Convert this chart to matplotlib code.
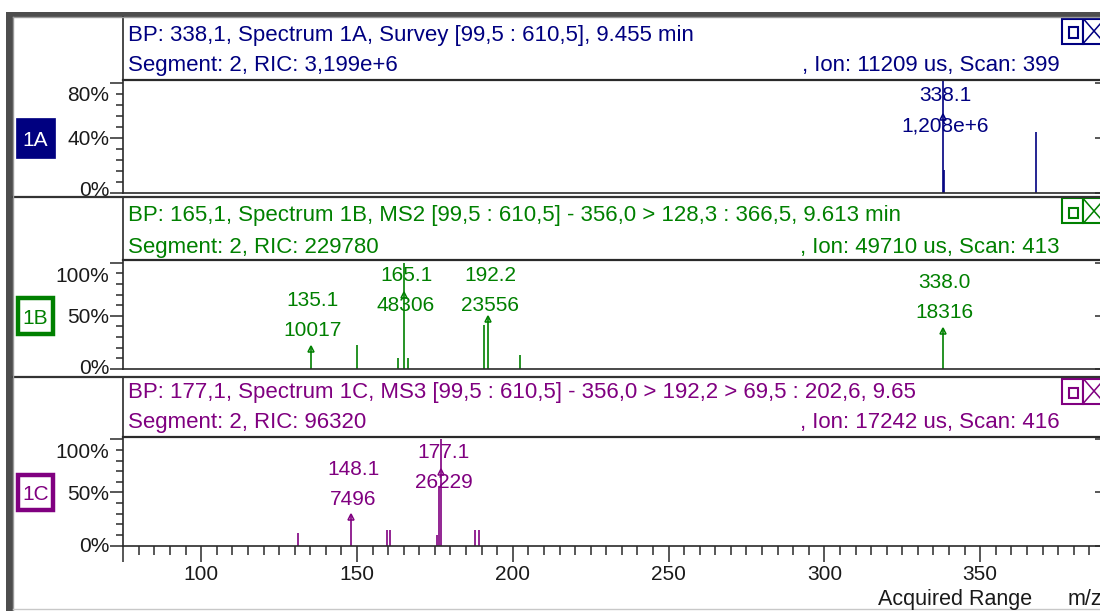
import matplotlib
matplotlib.use("Agg")
import matplotlib.pyplot as plt
from matplotlib.patches import Rectangle
from matplotlib.lines import Line2D
from matplotlib.transforms import ScaledTranslation, blended_transform_factory

plt.rcParams['font.family'] = ['Liberation Sans', 'DejaVu Sans']

W, H, DPI = 1100, 611, 100

# ---- spectra (m/z, absolute intensity) ----
spec_ids = ["1A", "1B", "1C"]
spec_colors = ["#000080", "#008000", "#800080"]

mz_1a = [338.1, 338.4, 368.0]
int_1a = [1208000, 200000, 534000]
mz_1b = [135.1, 150.1, 163.1, 165.1, 166.3, 190.7, 192.2, 202.3, 338.0]
int_1b = [10017, 10970, 4830, 48306, 4830, 19800, 23556, 6530, 18316]
mz_1c = [131.2, 148.1, 159.5, 160.5, 175.6, 176.2, 177.1, 188.0, 189.0]
int_1c = [3070, 7496, 3930, 3930, 2620, 14700, 26229, 3930, 3930]

labeled_1a = [338.1]
labeled_1b = [135.1, 165.1, 192.2, 338.0]
labeled_1c = [148.1, 177.1]

header_line1 = [
    "BP: 338,1, Spectrum 1A, Survey [99,5 : 610,5], 9.455 min",
    "BP: 165,1, Spectrum 1B, MS2 [99,5 : 610,5] - 356,0 > 128,3 : 366,5, 9.613 min",
    "BP: 177,1, Spectrum 1C, MS3 [99,5 : 610,5] - 356,0 > 192,2 > 69,5 : 202,6, 9.65",
]
header_seg = ["Segment: 2, RIC: 3,199e+6", "Segment: 2, RIC: 229780", "Segment: 2, RIC: 96320"]
header_ion = [", Ion: 11209 us, Scan: 399", ", Ion: 49710 us, Scan: 413", ", Ion: 17242 us, Scan: 416"]

y_max = [82.3, 103.0, 102.6]
y_major = [[0, 40, 80], [0, 50, 100], [0, 50, 100]]
y_minor_step = [8, 10, 10]
x_major = [75, 100, 150, 200, 250, 300, 350]
x_labels = ["", "100", "150", "200", "250", "300", "350"]
x_range = (75, 388.45)

# ---- layout in pixels ----
AX_LEFT, AX_RIGHT = 123.3, 1100.0
panel_top = [79.5, 259.5, 436.5]
panel_bottom = [193.0, 369.0, 545.5]
header_top = [17.0, 197.0, 377.0]
line1_y = [33.3, 213.3, 390.0]
line2_y = [63.5, 244.5, 420.0]
badge_y = [(118, 158), (296, 336), (473, 512)]
ylab_shift = [[4, 0, -11], [3, 0, -12], [1, 0, -11]]

FS = 15
FS_HEAD = 16
DARK = "#2a2a2a"

fig = plt.figure(figsize=(W / DPI, H / DPI), dpi=DPI)
fig.patch.set_facecolor("white")


def fx(x):
    return x / W


def fy(y):
    return 1 - y / H


def px_rect(x0, y0, x1, y1, **kw):
    r = Rectangle((fx(x0), fy(y1)), (x1 - x0) / W, (y1 - y0) / H,
                  transform=fig.transFigure, **kw)
    fig.add_artist(r)
    return r


def px_line(xs, ys, **kw):
    ln = Line2D([fx(x) for x in xs], [fy(y) for y in ys], transform=fig.transFigure, **kw)
    fig.add_artist(ln)
    return ln


def fmt_intensity(v):
    if v >= 1e6:
        m, e = f"{v:.3e}".split("e")
        return m.replace(".", ",") + "e+" + str(int(e))
    return str(int(v))


def px(n):
    return n / DPI


spectra = [(mz_1a, int_1a, labeled_1a), (mz_1b, int_1b, labeled_1b), (mz_1c, int_1c, labeled_1c)]

for i, (mzs, ints, labeled) in enumerate(spectra):
    col = spec_colors[i]
    top, bot = panel_top[i], panel_bottom[i]
    h_px = bot - top
    ax = fig.add_axes([fx(AX_LEFT), fy(bot), (AX_RIGHT - AX_LEFT) / W, h_px / H])
    ax.set_xlim(*x_range)
    ax.set_ylim(0, y_max[i])
    base = max(ints)
    pct = [v / base * 100 for v in ints]
    ax.vlines(mzs, 0, pct, colors=col, linewidth=1.2)

    for s in ("left", "top", "bottom"):
        ax.spines[s].set_color(DARK)
        ax.spines[s].set_linewidth(1.2)
    ax.spines["top"].set_linewidth(1.6)
    ax.spines["right"].set_visible(False)

    ax.set_yticks(y_major[i])
    ax.set_yticks(list(range(0, y_major[i][-1] + 1, y_minor_step[i])), minor=True)
    ax.set_yticklabels([])
    ax.tick_params(axis="y", which="major", direction="out", length=9.4, width=1.1, color=DARK)
    ax.tick_params(axis="y", which="minor", direction="out", length=4.8, width=1.1, color=DARK)

    # short marks on the right edge at the major levels
    ax.plot([1.0] * len(y_major[i]), y_major[i], linestyle="none", marker=0, ms=3.5,
            mew=1.1, color=DARK, transform=blended_transform_factory(ax.transAxes, ax.transData),
            clip_on=False)

    ytr = blended_transform_factory(ax.transAxes, ax.transData)
    for v, dy in zip(y_major[i], ylab_shift[i]):
        ax.text(0, v, f"{v}%", transform=ytr + ScaledTranslation(px(-14), px(dy), fig.dpi_scale_trans),
                ha="right", va="center_baseline", fontsize=FS, color="#1a1a1a", clip_on=False)

    if i == 2:
        ax.set_xticks(x_major)
        ax.set_xticklabels(x_labels)
        ax.set_xticks(list(range(80, 390, 5)), minor=True)
        ax.tick_params(axis="x", which="major", direction="out", length=11.5, width=1.1,
                       color=DARK, labelsize=FS, labelcolor="#1a1a1a", pad=2.5)
        ax.tick_params(axis="x", which="minor", direction="out", length=6.5, width=1.1, color=DARK)
    else:
        ax.set_xticks([])

    # peak annotations
    ltr = blended_transform_factory(ax.transData, ax.transAxes)
    for m in labeled:
        k = mzs.index(m)
        tip = min(pct[k] / y_max[i], 0.69)
        l1 = tip + 48 / h_px
        if l1 > 1 - 14 / h_px:
            l1 = 1 - 14 / h_px
        l2 = l1 - 30 / h_px
        off = ScaledTranslation(px(2), 0, fig.dpi_scale_trans)
        ax.text(m, l1, f"{m:.1f}", transform=ltr + off, ha="center", va="center_baseline",
                fontsize=FS, color=col, clip_on=False)
        ax.text(m, l2, fmt_intensity(ints[k]), transform=ltr + off, ha="center",
                va="center_baseline", fontsize=FS, color=col, clip_on=False)
        ax.plot([m], [tip], marker="^", ms=5, mfc="none", mec=col, mew=1.1,
                transform=ltr + ScaledTranslation(0, px(-2), fig.dpi_scale_trans), clip_on=False)

    # header texts
    fig.text(fx(128.3), fy(line1_y[i]), header_line1[i], ha="left", va="center_baseline",
             fontsize=FS_HEAD, color=col)
    fig.text(fx(128.3), fy(line2_y[i]), header_seg[i], ha="left", va="center_baseline",
             fontsize=FS_HEAD, color=col)
    fig.text(fx(1060), fy(line2_y[i]), header_ion[i], ha="right", va="center_baseline",
             fontsize=FS_HEAD, color=col)

    # window buttons
    bt = header_top[i] + 1.5
    px_rect(1062, bt, 1083, bt + 25, facecolor="white", edgecolor=col, linewidth=1.5)
    px_rect(1068.5, bt + 9, 1077.5, bt + 19, facecolor="none", edgecolor=col, linewidth=1.5)
    px_rect(1083, bt, 1110, bt + 25, facecolor="white", edgecolor=col, linewidth=1.5)
    px_line([1084, 1104], [bt + 1, bt + 24], color=col, linewidth=1.1)
    px_line([1084, 1104], [bt + 24, bt + 1], color=col, linewidth=1.1)

    # spectrum badge
    y0, y1 = badge_y[i]
    if i == 0:
        px_rect(16, y0, 55, y1, facecolor=col, edgecolor=col, linewidth=0.5)
        tc = "white"
    else:
        px_rect(18.2, y0 + 2.2, 52.8, y1 - 2.2, facecolor="white", edgecolor=col, linewidth=3.2)
        tc = col
    fig.text(fx(35.5), fy((y0 + y1) / 2), spec_ids[i], ha="center", va="center_baseline",
             fontsize=FS, color=tc)

# frame lines
px_line([AX_LEFT, AX_LEFT], [17, 79.5], color=DARK, linewidth=1.2)
px_line([AX_LEFT, AX_LEFT], [197, 259.5], color=DARK, linewidth=1.2)
px_line([AX_LEFT, AX_LEFT], [377, 436.5], color=DARK, linewidth=1.2)
px_line([13, 1100], [196.8, 196.8], color="#333333", linewidth=1.6)
px_line([13, 1100], [376.8, 376.8], color="#333333", linewidth=1.6)

# outer window border
px_rect(6, 12, 12.5, 611, facecolor="#4d4d4d", edgecolor="none")
px_rect(6, 12, 1100, 16.5, facecolor="#4d4d4d", edgecolor="none")
px_line([13.2, 13.2], [16.5, 611], color="#9a9a9a", linewidth=1.0)
px_line([12.5, 1100], [17.0, 17.0], color="#9a9a9a", linewidth=1.0)
px_line([12.5, 1100], [608.5, 608.5], color="#c8c8c8", linewidth=1.0)

fig.text(fx(878), fy(597), "Acquired Range", ha="left", va="center_baseline", fontsize=15.5, color="#1a1a1a")
fig.text(fx(1067.5), fy(597), "m/z", ha="left", va="center_baseline", fontsize=15.5, color="#1a1a1a")

fig.savefig("out.png", dpi=DPI)
